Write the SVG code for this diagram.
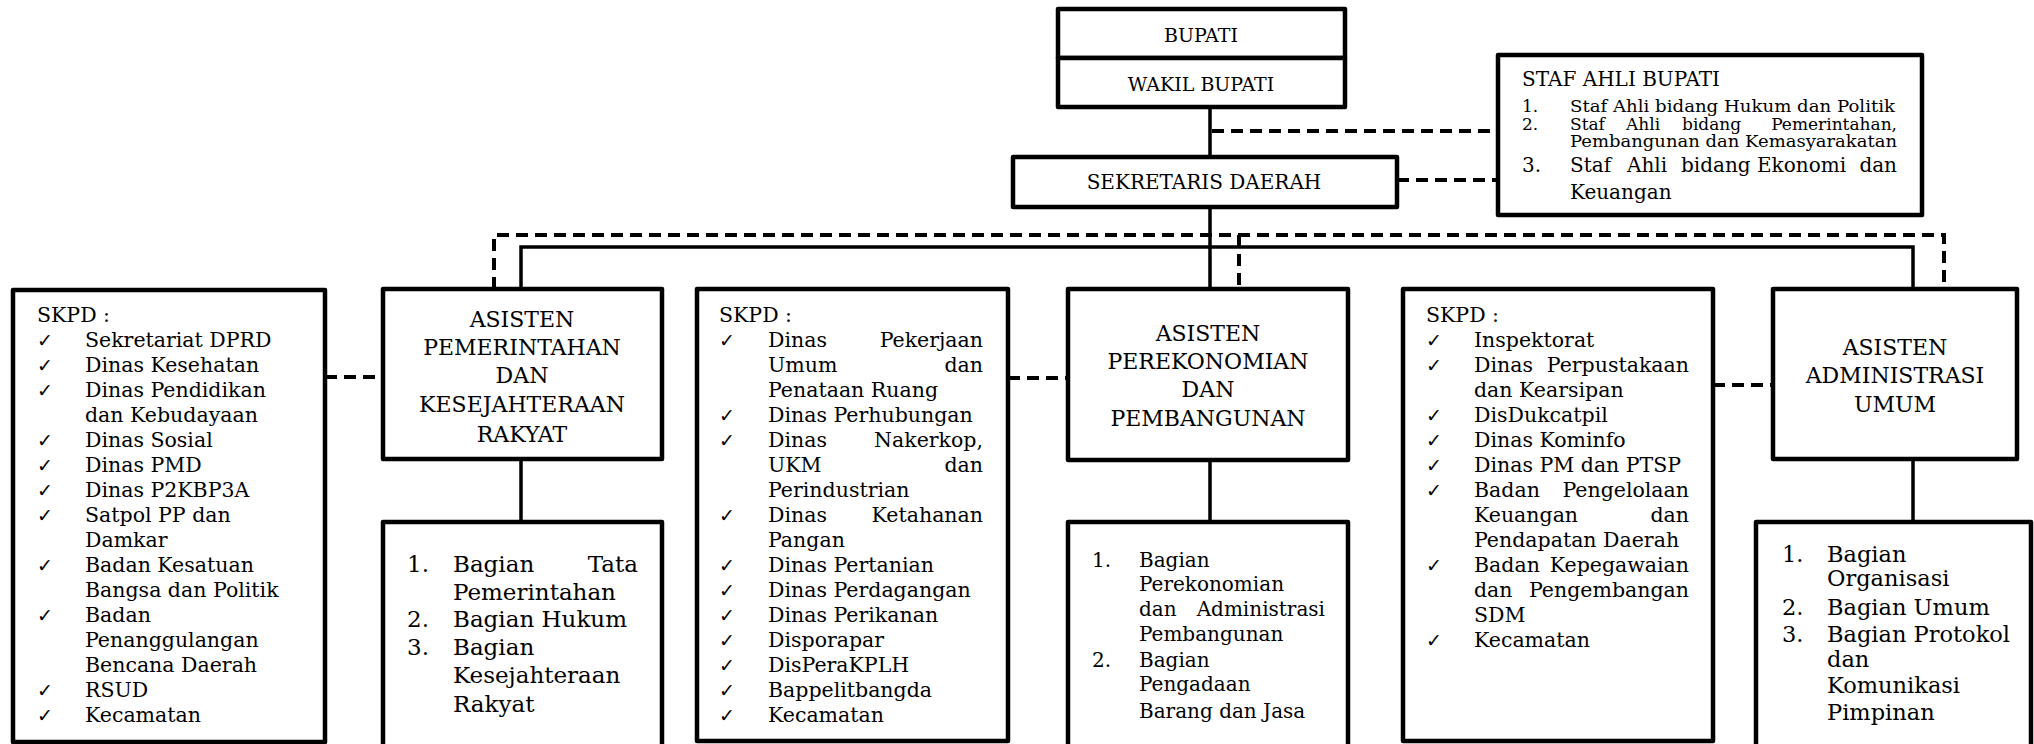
<svg xmlns="http://www.w3.org/2000/svg" width="2034" height="744" viewBox="0 0 2034 744">
<style>
.box{fill:#fff;stroke:#000;stroke-width:4.5;stroke-linejoin:round}
.ln{fill:none;stroke:#000;stroke-width:3.5}
.dl{fill:none;stroke:#000;stroke-width:4;stroke-dasharray:12 7}
text{font-family:"DejaVu Serif","Liberation Serif",serif;fill:#000}
.t19{font-size:19px}
.t20{font-size:20px}
.t22{font-size:22px;text-anchor:middle}
.s{font-size:20.5px}
.ck{font-family:"DejaVu Sans",sans-serif;font-size:19px}
.b23{font-size:23px}
.b21{font-size:20px}
.b22{font-size:22.5px}
.st{font-size:17px}
.st20{font-size:20px}
.e{text-anchor:end}
.m{text-anchor:middle}
</style>
<g id="connectors">
<path class="ln" d="M1210,107 V157 M1210,207 V289"/>
<path class="dl" d="M1212,131 H1497 M1397,180 H1497"/>
<path class="dl" d="M494,289 V235 H1944 V289 M1239,235 V289"/>
<path class="ln" d="M521,289 V247 H1913 V289"/>
<path class="dl" d="M325,377 H383 M1008,378 H1068 M1713,385 H1773"/>
<path class="ln" d="M521,459 V522 M1210,460 V522 M1913,459 V522"/>
</g>
<g id="bupati">
<rect class="box" x="1058" y="9" width="287" height="49"/>
<text class="t19 m" x="1201" y="42">BUPATI</text>
</g>
<g id="wakil">
<rect class="box" x="1058" y="58" width="287" height="49"/>
<text class="t19 m" x="1201" y="91">WAKIL BUPATI</text>
</g>
<g id="sekda">
<rect class="box" x="1013" y="157" width="384" height="50"/>
<text class="t20 m" x="1204" y="189">SEKRETARIS DAERAH</text>
</g>
<g id="staf">
<rect class="box" x="1498" y="55" width="424" height="160"/>
<text class="t20" x="1522" y="86" textLength="198" lengthAdjust="spacingAndGlyphs">STAF AHLI BUPATI</text>
<text class="st" x="1522" y="112">1.</text>
<text class="st" x="1570" y="112" textLength="325" lengthAdjust="spacingAndGlyphs">Staf Ahli bidang Hukum dan Politik</text>
<text class="st" x="1522" y="130">2.</text>
<text class="st" x="1570" y="130">Staf</text>
<text class="st" x="1626" y="130">Ahli</text>
<text class="st" x="1682" y="130">bidang</text>
<text class="st e" x="1897" y="130">Pemerintahan,</text>
<text class="st" x="1570" y="147" textLength="327" lengthAdjust="spacingAndGlyphs">Pembangunan dan Kemasyarakatan</text>
<text class="st20" x="1522" y="172">3.</text>
<text class="st20" x="1570" y="172">Staf</text>
<text class="st20" x="1627" y="172">Ahli</text>
<text class="st20" x="1681" y="172">bidang</text>
<text class="st20" x="1757" y="172">Ekonomi</text>
<text class="st20 e" x="1897" y="172">dan</text>
<text class="st20" x="1570" y="199">Keuangan</text>
</g>
<g id="skpd-kiri">
<rect class="box" x="13" y="290" width="312" height="452"/>
<text class="s" x="37" y="322">SKPD :</text>
<text class="ck" x="37" y="347">✓</text><text class="s" x="85" y="347">Sekretariat DPRD</text>
<text class="ck" x="37" y="372">✓</text><text class="s" x="85" y="372">Dinas Kesehatan</text>
<text class="ck" x="37" y="397">✓</text><text class="s" x="85" y="397">Dinas Pendidikan</text>
<text class="s" x="85" y="422">dan Kebudayaan</text>
<text class="ck" x="37" y="447">✓</text><text class="s" x="85" y="447">Dinas Sosial</text>
<text class="ck" x="37" y="472">✓</text><text class="s" x="85" y="472">Dinas PMD</text>
<text class="ck" x="37" y="497">✓</text><text class="s" x="85" y="497">Dinas P2KBP3A</text>
<text class="ck" x="37" y="522">✓</text><text class="s" x="85" y="522">Satpol PP dan</text>
<text class="s" x="85" y="547">Damkar</text>
<text class="ck" x="37" y="572">✓</text><text class="s" x="85" y="572">Badan Kesatuan</text>
<text class="s" x="85" y="597">Bangsa dan Politik</text>
<text class="ck" x="37" y="622">✓</text><text class="s" x="85" y="622">Badan</text>
<text class="s" x="85" y="647">Penanggulangan</text>
<text class="s" x="85" y="672">Bencana Daerah</text>
<text class="ck" x="37" y="697">✓</text><text class="s" x="85" y="697">RSUD</text>
<text class="ck" x="37" y="722">✓</text><text class="s" x="85" y="722">Kecamatan</text>
</g>
<g id="asisten-pemerintahan">
<rect class="box" x="383" y="289" width="279" height="170"/>
<text class="t22" x="522" y="327">ASISTEN</text>
<text class="t22" x="522" y="355">PEMERINTAHAN</text>
<text class="t22" x="522" y="383">DAN</text>
<text class="t22" x="522" y="412">KESEJAHTERAAN</text>
<text class="t22" x="522" y="442">RAKYAT</text>
</g>
<g id="bagian-pemerintahan">
<rect class="box" x="383" y="522" width="279" height="232"/>
<text class="b23" x="407" y="572">1.</text><text class="b23" x="453" y="572">Bagian</text><text class="b23 e" x="638" y="572">Tata</text>
<text class="b23" x="453" y="600">Pemerintahan</text>
<text class="b23" x="407" y="627">2.</text><text class="b23" x="453" y="627">Bagian Hukum</text>
<text class="b23" x="407" y="655">3.</text><text class="b23" x="453" y="655">Bagian</text>
<text class="b23" x="453" y="683">Kesejahteraan</text>
<text class="b23" x="453" y="712">Rakyat</text>
</g>
<g id="skpd-tengah">
<rect class="box" x="697" y="289" width="311" height="452"/>
<text class="s" x="719" y="322">SKPD :</text>
<text class="ck" x="719" y="347">✓</text><text class="s" x="768" y="347">Dinas</text><text class="s e" x="983" y="347">Pekerjaan</text>
<text class="s" x="768" y="372">Umum</text><text class="s e" x="983" y="372">dan</text>
<text class="s" x="768" y="397">Penataan Ruang</text>
<text class="ck" x="719" y="422">✓</text><text class="s" x="768" y="422">Dinas Perhubungan</text>
<text class="ck" x="719" y="447">✓</text><text class="s" x="768" y="447">Dinas</text><text class="s e" x="983" y="447">Nakerkop,</text>
<text class="s" x="768" y="472">UKM</text><text class="s e" x="983" y="472">dan</text>
<text class="s" x="768" y="497">Perindustrian</text>
<text class="ck" x="719" y="522">✓</text><text class="s" x="768" y="522">Dinas</text><text class="s e" x="983" y="522">Ketahanan</text>
<text class="s" x="768" y="547">Pangan</text>
<text class="ck" x="719" y="572">✓</text><text class="s" x="768" y="572">Dinas Pertanian</text>
<text class="ck" x="719" y="597">✓</text><text class="s" x="768" y="597">Dinas Perdagangan</text>
<text class="ck" x="719" y="622">✓</text><text class="s" x="768" y="622">Dinas Perikanan</text>
<text class="ck" x="719" y="647">✓</text><text class="s" x="768" y="647">Disporapar</text>
<text class="ck" x="719" y="672">✓</text><text class="s" x="768" y="672">DisPeraKPLH</text>
<text class="ck" x="719" y="697">✓</text><text class="s" x="768" y="697">Bappelitbangda</text>
<text class="ck" x="719" y="722">✓</text><text class="s" x="768" y="722">Kecamatan</text>
</g>
<g id="asisten-perekonomian">
<rect class="box" x="1068" y="289" width="280" height="171"/>
<text class="t22" x="1208" y="341">ASISTEN</text>
<text class="t22" x="1208" y="369">PEREKONOMIAN</text>
<text class="t22" x="1208" y="397">DAN</text>
<text class="t22" x="1208" y="426">PEMBANGUNAN</text>
</g>
<g id="bagian-perekonomian">
<rect class="box" x="1068" y="522" width="280" height="232"/>
<text class="b21" x="1092" y="567">1.</text><text class="b21" x="1139" y="567">Bagian</text>
<text class="b21" x="1139" y="591">Perekonomian</text>
<text class="b21" x="1139" y="616">dan</text><text class="b21 e" x="1325" y="616">Administrasi</text>
<text class="b21" x="1139" y="641">Pembangunan</text>
<text class="b21" x="1092" y="667">2.</text><text class="b21" x="1139" y="667">Bagian</text>
<text class="b21" x="1139" y="691">Pengadaan</text>
<text class="b21" x="1139" y="718">Barang dan Jasa</text>
</g>
<g id="skpd-kanan">
<rect class="box" x="1403" y="289" width="310" height="452"/>
<text class="s" x="1426" y="322">SKPD :</text>
<text class="ck" x="1426" y="347">✓</text><text class="s" x="1474" y="347">Inspektorat</text>
<text class="ck" x="1426" y="372">✓</text><text class="s" x="1474" y="372">Dinas</text><text class="s e" x="1689" y="372">Perpustakaan</text>
<text class="s" x="1474" y="397">dan Kearsipan</text>
<text class="ck" x="1426" y="422">✓</text><text class="s" x="1474" y="422">DisDukcatpil</text>
<text class="ck" x="1426" y="447">✓</text><text class="s" x="1474" y="447">Dinas Kominfo</text>
<text class="ck" x="1426" y="472">✓</text><text class="s" x="1474" y="472">Dinas PM dan PTSP</text>
<text class="ck" x="1426" y="497">✓</text><text class="s" x="1474" y="497">Badan</text><text class="s e" x="1689" y="497">Pengelolaan</text>
<text class="s" x="1474" y="522">Keuangan</text><text class="s e" x="1689" y="522">dan</text>
<text class="s" x="1474" y="547">Pendapatan Daerah</text>
<text class="ck" x="1426" y="572">✓</text><text class="s" x="1474" y="572">Badan</text><text class="s e" x="1689" y="572">Kepegawaian</text>
<text class="s" x="1474" y="597">dan</text><text class="s e" x="1689" y="597">Pengembangan</text>
<text class="s" x="1474" y="622">SDM</text>
<text class="ck" x="1426" y="647">✓</text><text class="s" x="1474" y="647">Kecamatan</text>
</g>
<g id="asisten-administrasi">
<rect class="box" x="1773" y="289" width="244" height="170"/>
<text class="t22" x="1895" y="355">ASISTEN</text>
<text class="t22" x="1895" y="383">ADMINISTRASI</text>
<text class="t22" x="1895" y="412">UMUM</text>
</g>
<g id="bagian-administrasi">
<rect class="box" x="1756" y="522" width="275" height="232"/>
<text class="b22" x="1782" y="562">1.</text><text class="b22" x="1827" y="562">Bagian</text>
<text class="b22" x="1827" y="586">Organisasi</text>
<text class="b22" x="1782" y="615">2.</text><text class="b22" x="1827" y="615">Bagian Umum</text>
<text class="b22" x="1782" y="642">3.</text><text class="b22" x="1827" y="642">Bagian Protokol</text>
<text class="b22" x="1827" y="667">dan</text>
<text class="b22" x="1827" y="693">Komunikasi</text>
<text class="b22" x="1827" y="720">Pimpinan</text>
</g>
</svg>
